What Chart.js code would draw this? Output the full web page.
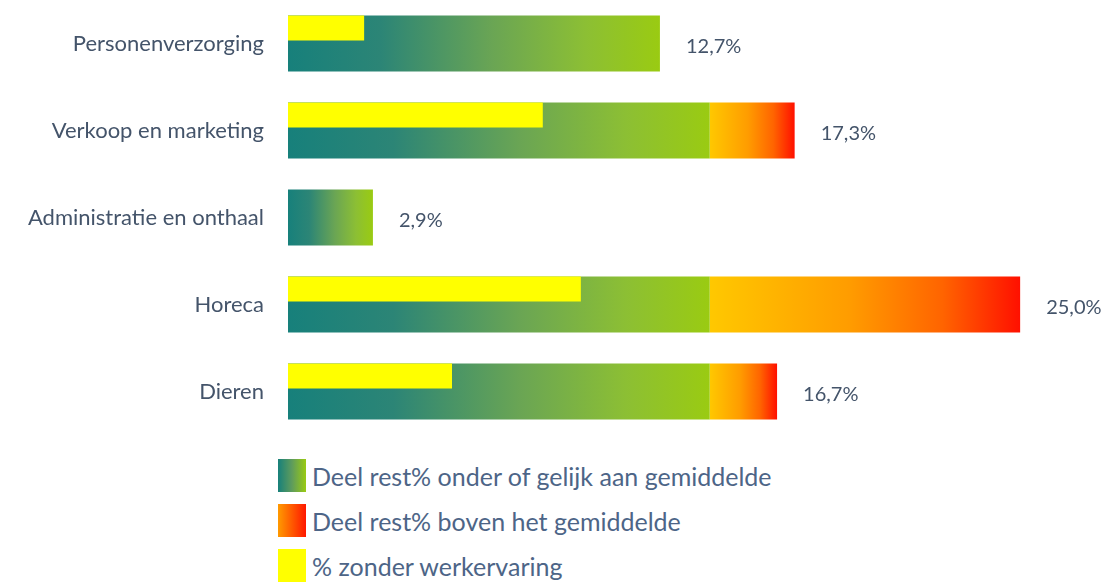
<!DOCTYPE html>
<html>
<head>
<meta charset="utf-8">
<script src="https://cdn.jsdelivr.net/npm/chart.js@4/dist/chart.umd.min.js"></script>
<style>
  body { margin: 0; background: #fff; font-family: Lato, sans-serif; }
  #wrap { position: relative; width: 1112px; height: 583px; overflow: hidden; }
  #box { position: absolute; left: 0; top: 0; width: 1112px; height: 435px; }
  #legend { position: absolute; left: 278px; top: 459px; }
  .row { display: flex; align-items: center; height: 33px; margin-bottom: 12px; }
  .sw { width: 28px; height: 33px; margin-right: 6px; }
  .row span { font-size: 25px; color: #4d6587; white-space: nowrap; }
</style>
</head>
<body>
<div id="wrap">
  <div id="box"><canvas id="chart"></canvas></div>
  <div id="legend">
    <div class="row"><div class="sw" style="background: linear-gradient(to right, #17807b, #5f9c5c, #9acb12)"></div><span>Deel rest% onder of gelijk aan gemiddelde</span></div>
    <div class="row"><div class="sw" style="background: linear-gradient(to right, #ff9a00, #ff1800)"></div><span>Deel rest% boven het gemiddelde</span></div>
    <div class="row"><div class="sw" style="background: #ffff00"></div><span>% zonder werkervaring</span></div>
  </div>
</div>
<script>
const categories = ["Personenverzorging", "Verkoop en marketing", "Administratie en onthaal", "Horeca", "Dieren"];
const belowAverage = [12.7, 14.4, 2.9, 14.4, 14.4];
const aboveAverage = [0, 2.9, 0, 10.6, 2.3];
const noExperience = [2.6, 8.7, 0, 10.0, 5.6];
const totalLabels = ["12,7%", "17,3%", "2,9%", "25,0%", "16,7%"];

const textColor = "#44546a";

// gradient per bar, from bar start to bar end
function barGradient(ctx, from, to, stops, fallback) {
  const chart = ctx.chart;
  const x = chart.scales.x;
  if (!chart.chartArea || !x || ctx.dataIndex === undefined) return fallback;
  const x0 = x.getPixelForValue(from[ctx.dataIndex]);
  const x1 = x.getPixelForValue(to[ctx.dataIndex]);
  if (!(x1 > x0)) return fallback;
  const g = chart.ctx.createLinearGradient(x0, 0, x1, 0);
  stops.forEach((s) => g.addColorStop(s[0], s[1]));
  return g;
}

const zeros = categories.map(() => 0);
const aboveEnd = belowAverage.map((v, i) => v + aboveAverage[i]);

const valueLabels = {
  id: "valueLabels",
  afterDatasetsDraw(chart) {
    const meta = chart.getDatasetMeta(2);
    const ctx = chart.ctx;
    ctx.save();
    ctx.font = "20px Lato";
    ctx.fillStyle = textColor;
    ctx.textBaseline = "middle";
    meta.data.forEach((el, i) => {
      ctx.fillText(totalLabels[i], el.x + 26, el.y + 3);
    });
    ctx.restore();
  },
};

new Chart(document.getElementById("chart"), {
  type: "bar",
  data: {
    labels: categories,
    datasets: [
      {
        label: "% zonder werkervaring",
        data: noExperience,
        backgroundColor: "#ffff00",
        stack: "yellow",
        categoryPercentage: 0.7126,
        barPercentage: 0.806,
      },
      {
        label: "Deel rest% onder of gelijk aan gemiddelde",
        data: belowAverage,
        stack: "main",
        grouped: false,
        categoryPercentage: 1,
        barPercentage: 0.644,
        backgroundColor: (c) =>
          barGradient(c, zeros, belowAverage, [[0, "#17807b"], [0.25, "#2c8576"], [0.55, "#6aa554"], [0.8, "#8cbf34"], [1, "#9acb12"]], "#5f9c5c"),
      },
      {
        label: "Deel rest% boven het gemiddelde",
        data: aboveAverage,
        stack: "main",
        grouped: false,
        categoryPercentage: 1,
        barPercentage: 0.644,
        backgroundColor: (c) =>
          barGradient(c, belowAverage, aboveEnd, [[0, "#ffc800"], [0.45, "#ff9c00"], [0.75, "#ff6400"], [1, "#ff1000"]], "#ff8000"),
      },
      {
        label: "",
        data: zeros,
        stack: "spacer",
        backgroundColor: "rgba(0,0,0,0)",
        categoryPercentage: 0.7126,
        barPercentage: 0.806,
      },
    ],
  },
  options: {
    indexAxis: "y",
    responsive: true,
    maintainAspectRatio: false,
    animation: false,
    layout: { padding: { top: 0, bottom: 0, left: 0, right: 4 } },
    plugins: {
      legend: { display: false },
      tooltip: { enabled: false },
    },
    scales: {
      x: {
        stacked: true,
        min: 0,
        max: 28,
        display: false,
      },
      y: {
        grid: { display: false },
        border: { display: false },
        ticks: {
          padding: 16,
          color: textColor,
          font: { family: "Lato", size: 22 },
        },
        afterFit(scale) {
          scale.width = 288;
          scale.paddingTop = 0;
          scale.paddingBottom = 0;
        },
      },
    },
  },
  plugins: [valueLabels],
});
</script>
</body>
</html>
